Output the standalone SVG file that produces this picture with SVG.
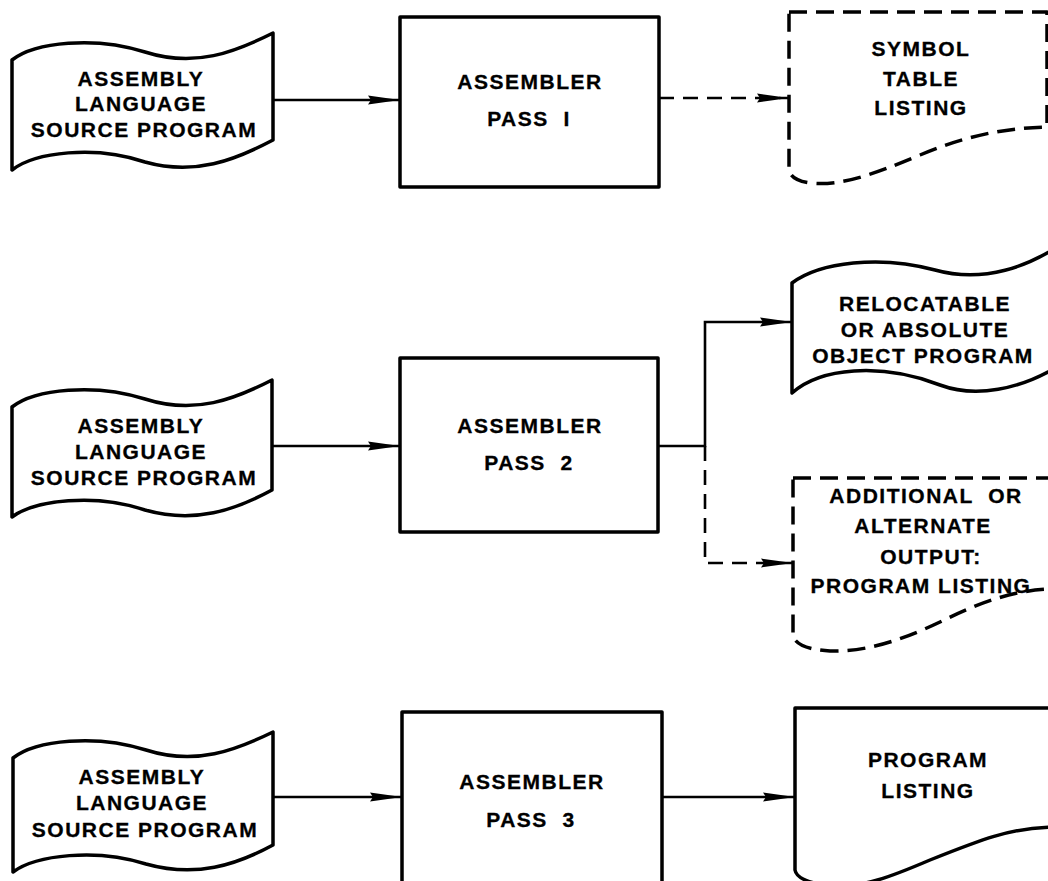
<svg xmlns="http://www.w3.org/2000/svg" width="1048" height="881" viewBox="0 0 1048 881">
  <style>
    .shape { fill: #fff; stroke: #000; stroke-width: 3.5; stroke-linejoin: round; }
    .dashed-shape { fill: #fff; stroke: #000; stroke-width: 3.5; stroke-dasharray: 18 9; stroke-linejoin: round; }
    .link { fill: none; stroke: #000; stroke-width: 2.6; }
    .link-dashed { fill: none; stroke: #000; stroke-width: 2.6; stroke-dasharray: 15 9; }
    .label { font-family: "Liberation Sans", Arial, sans-serif; font-weight: bold; font-size: 21px; letter-spacing: 1.5px; text-anchor: middle; fill: #000; stroke: #000; stroke-width: 0.3; white-space: pre; }
  </style>
  <defs>
    <marker id="arrow" viewBox="0 0 32 10" markerWidth="32" markerHeight="10" refX="32" refY="5" markerUnits="userSpaceOnUse" orient="auto">
      <path d="M0,0.5 L32,5 L0,9.5 L3,5 Z" fill="#000" stroke="none"/>
    </marker>
  </defs>
  <rect width="1048" height="881" fill="#fff"/>

  <!-- Pass 1 -->
  <g id="source-1">
    <path class="shape" d="M12,60 C35,42 95,36 145,52 C195,68 235,52 273,33 L273,140 C235,160 195,176 145,162 C95,145 35,152 12,170 Z"/>
    <text class="label" x="141" y="86">ASSEMBLY</text>
    <text class="label" x="141" y="111">LANGUAGE</text>
    <text class="label" x="144" y="137">SOURCE PROGRAM</text>
  </g>
  <g id="pass-1">
    <rect class="shape" x="400" y="17" width="259" height="170"/>
    <text class="label" x="530" y="89">ASSEMBLER</text>
    <text class="label" x="529" y="126">PASS  I</text>
  </g>
  <g id="symbol-table">
    <path class="dashed-shape" d="M789,12 H1047 V127 C1000,128 960,138 920,155 C870,176 840,186 810,183 Q789,180 789,168 Z"/>
    <text class="label" x="921" y="56">SYMBOL</text>
    <text class="label" x="921" y="86">TABLE</text>
    <text class="label" x="921" y="115">LISTING</text>
  </g>

  <!-- Pass 2 -->
  <g id="source-2">
    <path class="shape" d="M12,407 C35,389 95,383 145,399 C195,415 235,399 272,380 L272,490 C235,510 195,524 145,510 C95,493 35,500 12,517 Z"/>
    <text class="label" x="141" y="433">ASSEMBLY</text>
    <text class="label" x="141" y="459">LANGUAGE</text>
    <text class="label" x="144" y="485">SOURCE PROGRAM</text>
  </g>
  <g id="pass-2">
    <rect class="shape" x="400" y="358" width="258" height="174"/>
    <text class="label" x="530" y="433">ASSEMBLER</text>
    <text class="label" x="529" y="470">PASS  2</text>
  </g>
  <g id="object-program">
    <path class="shape" d="M792,283 C820,262 880,255 935,270 C985,284 1030,265 1060,245 L1060,365 C1020,390 975,398 940,385 C880,362 820,368 792,393 Z"/>
    <text class="label" x="925" y="311">RELOCATABLE</text>
    <text class="label" x="925" y="337">OR ABSOLUTE</text>
    <text class="label" x="923" y="363">OBJECT PROGRAM</text>
  </g>
  <g id="alternate-output">
    <path class="dashed-shape" d="M793,478 H1052 V589 C1010,590 975,605 940,622 C900,641 865,652 830,651 Q797,649 793,636 Z"/>
    <text class="label" x="926" y="503">ADDITIONAL  OR</text>
    <text class="label" x="923" y="533">ALTERNATE</text>
    <text class="label" x="931" y="564">OUTPUT:</text>
    <text class="label" x="921" y="593">PROGRAM LISTING</text>
  </g>

  <!-- Pass 3 -->
  <g id="source-3">
    <path class="shape" d="M13,758 C36,740 96,734 146,750 C196,766 236,750 273,732 L273,845 C236,865 196,878 146,864 C96,848 36,855 13,872 Z"/>
    <text class="label" x="142" y="784">ASSEMBLY</text>
    <text class="label" x="142" y="810">LANGUAGE</text>
    <text class="label" x="145" y="837">SOURCE PROGRAM</text>
  </g>
  <g id="pass-3">
    <rect class="shape" x="402" y="712" width="260" height="200"/>
    <text class="label" x="532" y="789">ASSEMBLER</text>
    <text class="label" x="531" y="827">PASS  3</text>
  </g>
  <g id="program-listing">
    <path class="shape" d="M795,708 H1052 V827 C1010,828 980,840 930,860 C895,875 860,890 825,885 Q797,881 795,870 Z"/>
    <text class="label" x="928" y="767">PROGRAM</text>
    <text class="label" x="928" y="798">LISTING</text>
  </g>

  <!-- Connectors -->
  <g id="connectors">
    <path class="link" d="M273,100 H400" marker-end="url(#arrow)"/>
    <path class="link-dashed" d="M659,98 H789" marker-end="url(#arrow)"/>
    <path class="link" d="M272,446 H400" marker-end="url(#arrow)"/>
    <path class="link" d="M658,446 H705 V322 H792" marker-end="url(#arrow)"/>
    <path class="link-dashed" d="M705,446 V563 H793" marker-end="url(#arrow)"/>
    <path class="link" d="M273,797 H402" marker-end="url(#arrow)"/>
    <path class="link" d="M662,797 H795" marker-end="url(#arrow)"/>
  </g>
</svg>
